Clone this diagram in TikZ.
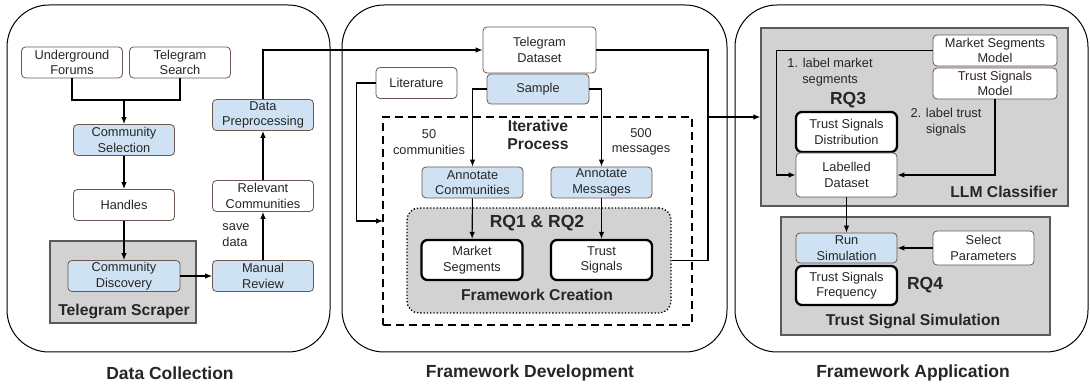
\documentclass[tikz,border=0pt]{standalone}
\usepackage{fontspec}
\setmainfont{Liberation Sans}
\usetikzlibrary{arrows.meta}

\definecolor{blueF}{HTML}{CFE2F3}
\definecolor{grayF}{HTML}{D2D2D2}
\definecolor{boxline}{HTML}{6E5650}
\newcommand\nrm{\fontsize{12.8}{15.5}\selectfont}
\newcommand\bfl{\fontsize{15.7}{18.5}\selectfont\bfseries}
\newcommand\bfh{\fontsize{17.5}{20}\selectfont\bfseries}

\begin{document}
\begin{tikzpicture}[x=1pt, y=-1pt, line width=1.1pt,
every node/.style={font=\nrm, text=black!85},
box/.style={draw=boxline, line width=0.8pt, fill=white, rounded corners=4pt, align=center,
  minimum width=101pt, minimum height=31pt, inner sep=1pt},
bbox/.style={box, fill=blueF},
rqbox/.style={box, draw=black, line width=2.3pt, rounded corners=6pt},
panel/.style={draw, rounded corners=42pt, line width=1pt},
group/.style={draw=black!65, fill=grayF, line width=1.2pt, inner sep=0pt},
arr/.style={-{Latex[length=7pt,width=5.5pt]}},
lbl/.style={align=center}]

\useasboundingbox (0,0) rectangle (1090,387);

% the three panels
\draw[panel] (7,5) rectangle (330,352);
\draw[panel] (342,5) rectangle (727,352);
\draw[panel] (735,5) rectangle (1088,352);

\node[font=\bfh] (ttlcol) at (170,373) {Data Collection};
\node[font=\bfh] (ttldev) at (530,373) {Framework Development};
\node[font=\bfh] (ttlapp) at (913,373) {Framework Application};

% data collection
\node[group, minimum width=146pt, minimum height=82pt] (scraper) at (123,282) {};
\node[font=\bfl] (scrlbl) at (124,311) {Telegram Scraper};

\node[box] (uf) at (72,62.5) {Underground\\Forums};
\node[box] (ts) at (180,62.5) {Telegram\\Search};
\node[bbox] (cs) at (124,140) {Community\\Selection};
\node[box] (hdl) at (124,205) {Handles};
\node[bbox, minimum width=112pt] (cd) at (124,276) {Community\\Discovery};
\node[bbox] (mr) at (263,276) {Manual\\Review};
\node[box] (rc) at (263,196) {Relevant\\Communities};
\node[bbox] (dp) at (263,115) {Data\\Preprocessing};
\node[align=left] (save) at (236,235) {save\\data};

\coordinate (mrg) at (124,100);
\draw (uf.south) |- (mrg) -| (ts.south);
\draw[arr] (mrg) -- (cs);
\draw[arr] (cs) -- (hdl);
\draw[arr] (hdl) -- (cd);
\draw[arr] (cd) -- (mr);
\draw[arr] (mr) -- (rc);
\draw[arr] (rc) -- (dp);

% framework development
\node[draw, dash pattern=on 8pt off 5pt, line width=1.2pt, minimum width=309pt, minimum height=208pt] (iter) at (537.5,221) {};
\node[draw, dotted, line width=1.3pt, fill=grayF, rounded corners=12pt, minimum width=264pt, minimum height=105pt] (fc) at (539,260.5) {};

\node[box, minimum width=113pt, minimum height=46pt] (tds) at (539.5,50) {Telegram\\Dataset};
\node[bbox, minimum width=102pt, minimum height=30pt] (smp) at (538,89) {Sample};
\node[box, minimum width=81pt] (lit) at (416.5,83) {Literature};
\node[font=\bfl, lbl] (itlbl) at (538,135) {Iterative\\Process};
\node[lbl] (n50) at (429,142) {50\\communities};
\node[lbl] (n500) at (641,142) {500\\messages};
\node[bbox] (ac) at (472.5,182.5) {Annotate\\Communities};
\node[bbox] (am) at (601.5,182.5) {Annotate\\Messages};
\node[font=\bfh] (rq12) at (537,223) {RQ1 \& RQ2};
\node[rqbox, minimum height=40pt] (ms) at (472,260) {Market\\Segments};
\node[rqbox, minimum height=40pt] (tsg) at (601.5,260) {Trust\\Signals};
\node[font=\bfl] (fclbl) at (537,295) {Framework Creation};

\coordinate (litin) at (383,221);
\draw[arr] (dp.north) |- (tds.west);
\draw[arr] (lit.west) -- ++(-19,0) |- (litin);
\draw[arr] (smp.west) -| (ac.north);
\draw[arr] (smp.east) -| (am.north);
\draw[arr] (ac) -- (ms);
\draw[arr] (am) -- (tsg);

% framework application
\node[group, minimum width=307pt, minimum height=178pt] (llm) at (914.5,117) {};
\node[group, minimum width=269pt, minimum height=118pt] (sim) at (915.5,276) {};

\coordinate (out) at (708,117);
\draw (fc.east) -| (708,50) -- (tds.east);
\draw[arr] (out) -- (llm.west);

\node[box, minimum width=124pt] (msm) at (995,50.5) {Market Segments\\Model};
\node[box, minimum width=124pt] (tsm) at (995,83.5) {Trust Signals\\Model};
\node[lbl] (l1) at (830,72) {1. label market\\segments};
\node[font=\bfh] (rq3) at (848,100) {RQ3};
\node[lbl] (l2) at (946,122) {2. label trust\\signals};
\node[rqbox, minimum height=40pt] (tsd) at (846.5,132) {Trust Signals\\Distribution};
\node[box, minimum height=44pt] (ld) at (846.5,175) {Labelled\\Dataset};
\node[font=\bfl] (llmlbl) at (1004,192) {LLM Classifier};

\node[bbox, minimum height=30pt] (rs) at (846.5,248) {Run\\Simulation};
\node[rqbox, minimum height=39pt] (tsf) at (846.5,285.5) {Trust Signals\\Frequency};
\node[box, minimum height=34pt] (sp) at (983.5,248) {Select\\Parameters};
\node[font=\bfh] (rq4) at (925,285) {RQ4};
\node[font=\bfl] (simlbl) at (913,321) {Trust Signal Simulation};

\draw[arr] (msm.west) -- ++(-156,0) |- (ld.west);
\draw[arr] (tsm.south) |- (ld.east);
\draw[arr] (ld) -- (rs);
\draw[arr] (sp) -- (rs);

\end{tikzpicture}
\end{document}
